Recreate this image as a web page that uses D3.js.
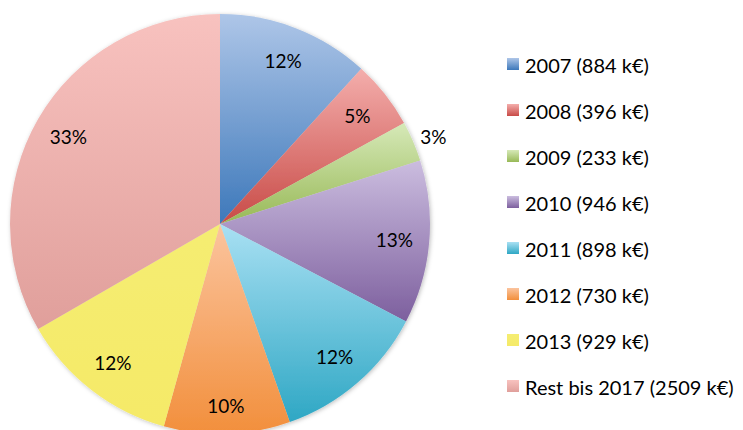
<!DOCTYPE html>
<html>
<head>
<meta charset="utf-8">
<script src="https://cdn.jsdelivr.net/npm/d3@7"></script>
<style>
  body { margin: 0; background: #fff; }
  svg { display: block; font-family: Lato, "Open Sans", sans-serif; }
</style>
</head>
<body>
<svg id="chart-svg" width="743" height="430"></svg>
<script>
var labels = ["2007 (884 k€)", "2008 (396 k€)", "2009 (233 k€)", "2010 (946 k€)",
              "2011 (898 k€)", "2012 (730 k€)", "2013 (929 k€)", "Rest bis 2017 (2509 k€)"];
var values = [884, 396, 233, 946, 898, 730, 929, 2509];
var topColors = ["#aec6e8", "#f4aeac", "#d6e9b8", "#cbbddf", "#a9e0f3", "#fbc49e", "#f5ed72", "#f8c2bf"];
var bottomColors = ["#3d78ba", "#c84b47", "#98b957", "#7d5f9e", "#2ea7c4", "#f28f3c", "#f5ea68", "#e09f9b"];

var svg = d3.select("#chart-svg");
var cx = 220, cy = 224, radius = 210;

var defs = svg.append("defs");
values.forEach(function (v, i) {
    var g = defs.append("linearGradient")
        .attr("id", "grad" + i)
        .attr("x1", 0).attr("y1", 0).attr("x2", 0).attr("y2", 1);
    g.append("stop").attr("offset", "0%").attr("stop-color", topColors[i]);
    g.append("stop").attr("offset", "100%").attr("stop-color", bottomColors[i]);
});
var shadow = defs.append("filter").attr("id", "shadow")
    .attr("x", "-10%").attr("y", "-10%").attr("width", "120%").attr("height", "120%");
shadow.append("feDropShadow")
    .attr("dx", 1).attr("dy", 1).attr("stdDeviation", 2)
    .attr("flood-color", "#000").attr("flood-opacity", 0.25);

var total = d3.sum(values);
var pie = d3.pie().sort(null).value(function (d) { return d; });
var arcs = pie(values);
var arc = d3.arc().innerRadius(0).outerRadius(radius);
var labelArc = d3.arc().innerRadius(175).outerRadius(175);
var outerLabelArc = d3.arc().innerRadius(232).outerRadius(232);

var g = svg.append("g").attr("transform", "translate(" + cx + "," + cy + ")");
var pieG = g.append("g").attr("filter", "url(#shadow)");

pieG.selectAll(".slice")
    .data(arcs)
    .enter()
    .append("path")
    .attr("class", "slice")
    .attr("d", arc)
    .attr("fill", function (d, i) { return "url(#grad" + i + ")"; });

g.selectAll(".label")
    .data(arcs)
    .enter()
    .append("text")
    .attr("class", "label")
    .attr("transform", function (d) {
        var small = d.value / total < 0.04;
        var c = (small ? outerLabelArc : labelArc).centroid(d);
        if (small) c[1] += 4;
        if (c[1] > 170) c[1] = 181;
        return "translate(" + c[0] + "," + c[1] + ")";
    })
    .attr("text-anchor", "middle")
    .attr("dominant-baseline", "central")
    .attr("font-size", 19)
    .attr("fill", "#000")
    .text(function (d) { return Math.round(d.value / total * 100) + "%"; });

var legend = svg.append("g").attr("transform", "translate(507,64)");
var rows = legend.selectAll(".row")
    .data(labels)
    .enter()
    .append("g")
    .attr("class", "row")
    .attr("transform", function (d, i) { return "translate(0," + i * 46 + ")"; });

rows.append("rect")
    .attr("x", 0).attr("y", -6)
    .attr("width", 12).attr("height", 12)
    .attr("fill", function (d, i) { return "url(#grad" + i + ")"; });

rows.append("text")
    .attr("x", 18)
    .attr("y", 1)
    .attr("dominant-baseline", "central")
    .attr("font-size", 20)
    .attr("fill", "#000")
    .text(function (d) { return d; });
</script>
</body>
</html>
